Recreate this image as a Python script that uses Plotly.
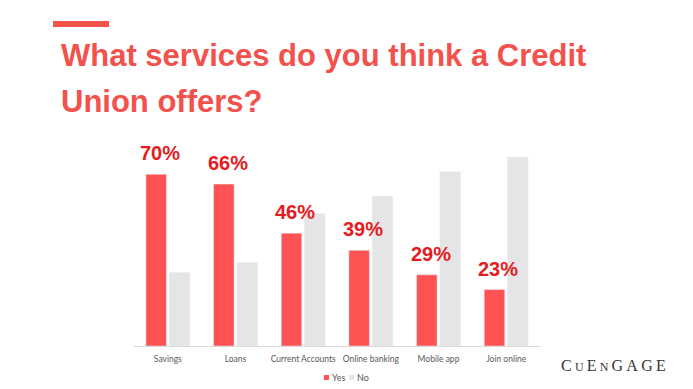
import plotly.graph_objects as go

categories = ["Savings", "Loans", "Current Accounts", "Online banking", "Mobile app", "Join online"]
yes_values = [70, 66, 46, 39, 29, 23]
no_values = [30, 34, 54, 61, 71, 77]
yes_labels = ["70%", "66%", "46%", "39%", "29%", "23%"]
series_names = ["Yes", "No"]
title_lines = ["What services do you think a Credit", "Union offers?"]

# the page body has an 8px margin, so the figure is drawn 8px smaller and offset
OFF = 8
W, H = 693 - OFF, 389 - OFF
L, R, T, B = 134 - OFF, 153, 150 - OFF, 43
PW, PH = W - L - R, H - T - B

def px(x):
    return (x - OFF - L) / PW

def py(y):
    return (H - B - (y - OFF)) / PH

BOLD = "Liberation Sans, Arial, sans-serif"
YES_C = "#FF5353"
NO_C = "#E5E5E5"
TITLE_C = "#F2514C"
LABEL_C = "#E51B1E"
TXT_C = "#595959"

fig = go.Figure()
fig.add_trace(go.Bar(name=series_names[0], x=categories, y=yes_values, marker_color=YES_C, showlegend=False))
fig.add_trace(go.Bar(name=series_names[1], x=categories, y=no_values, marker_color=NO_C, showlegend=False))

for c, v, t in zip(categories, yes_values, yes_labels):
    fig.add_annotation(x=c, y=v, xref="x", yref="y", text="<b>" + t + "</b>",
                       showarrow=False, xshift=-8, yanchor="bottom", yshift=8,
                       font=dict(family=BOLD, size=20, color=LABEL_C))

for line, ycen in zip(title_lines, [55, 101]):
    fig.add_annotation(x=px(59), y=py(ycen), xref="paper", yref="paper", xanchor="left", yanchor="middle",
                       align="left", showarrow=False, text="<b>" + line + "</b>",
                       font=dict(family=BOLD, size=31, color=TITLE_C))

fig.add_shape(type="rect", xref="paper", yref="paper", x0=px(53), x1=px(109), y0=py(27), y1=py(21),
              fillcolor=TITLE_C, line_width=0)

# legend (custom, compact)
leg_items = [(series_names[0], YES_C, 324), (series_names[1], NO_C, 349)]
for name, col, x0 in leg_items:
    fig.add_shape(type="rect", xref="paper", yref="paper", x0=px(x0), x1=px(x0 + 5),
                  y0=py(380), y1=py(375), fillcolor=col, line_width=0)
    fig.add_annotation(x=px(x0 + 6), y=py(377.5), xref="paper", yref="paper", xanchor="left",
                       yanchor="middle", showarrow=False, text=name,
                       font=dict(family="Lato, sans-serif", size=9, color=TXT_C))

small = "<span style='font-size:12px'>"
fig.add_annotation(x=px(613), y=py(365), xref="paper", yref="paper", xanchor="center", yanchor="middle",
                   showarrow=False,
                   text="C\u2009" + small + "U</span>\u2009E\u2009" + small + "N</span>\u2009G\u2009A\u2009G\u2009E",
                   font=dict(family="Liberation Serif, DejaVu Serif, serif", size=16, color="#333333"))

fig.update_layout(
    width=W, height=H,
    margin=dict(l=L, r=R, t=T, b=B, pad=0),
    paper_bgcolor="white", plot_bgcolor="white",
    barmode="group", bargap=0.31, bargroupgap=0.12,
    showlegend=False,
    xaxis=dict(showline=True, linecolor="#D9D9D9", linewidth=1, ticks="", showgrid=False,
               tickangle=0, automargin=False, ticklabelstandoff=5,
               tickfont=dict(family="Lato, sans-serif", size=8.5, color=TXT_C)),
    yaxis=dict(range=[0, PH / 2.453], visible=False, showgrid=False, zeroline=False, automargin=False),
)

fig.write_html("out.html")
